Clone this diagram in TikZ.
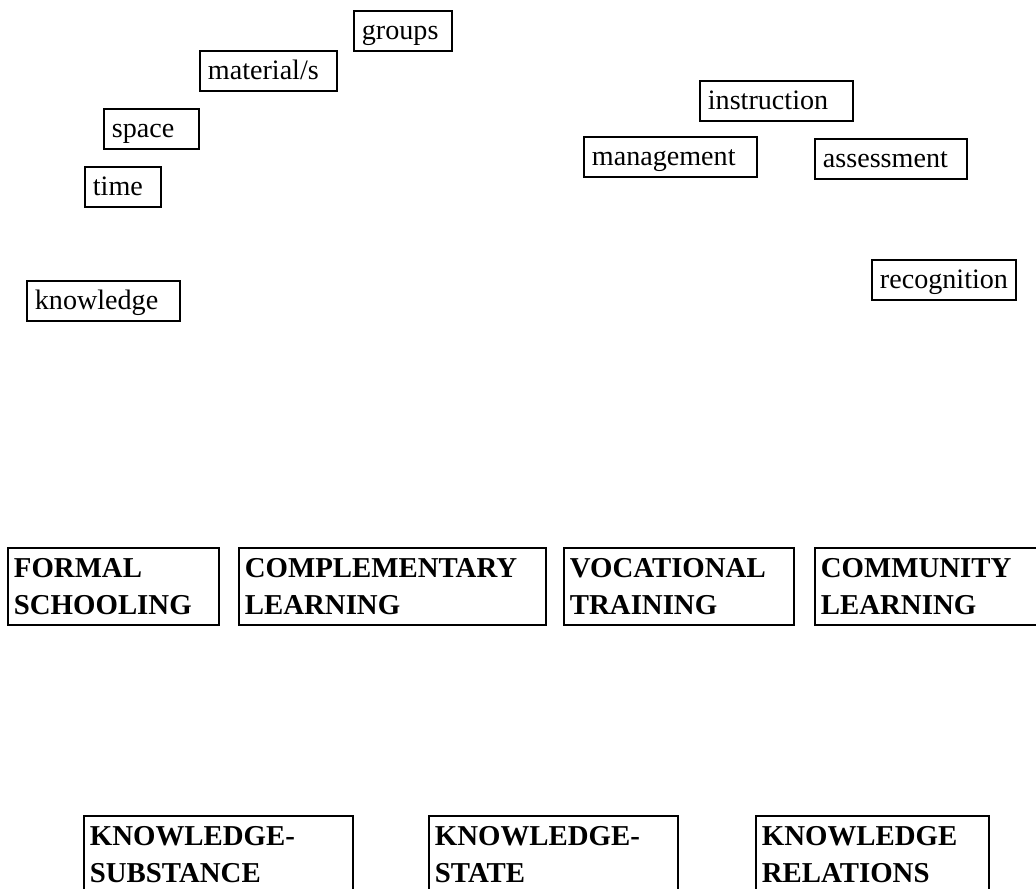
\documentclass[tikz,border=0pt]{standalone}
\usepackage{fontspec}
\setmainfont{Liberation Serif}
\tikzset{
	plainstyle/.style={draw=black, line width=1.3pt, anchor=north west, inner xsep=0.2cm, inner ysep=0pt,
		text height=0.72cm, text depth=0.28cm, align=left, font=\fontsize{20}{26}\selectfont},
	boldstyle/.style={draw=black, line width=1.3pt, anchor=north west, inner xsep=0.15cm, inner ysep=0pt,
		minimum height=1.925cm, align=left, font=\fontsize{20.5}{26.5}\selectfont\bfseries}
}

\begin{document}
\begin{tikzpicture}
	\clip (0,0) rectangle (25.9,22.2);
	\node[plainstyle, text width=2.05cm] (groups) at (8.825,21.95) {groups};
	\node[plainstyle, text width=3.025cm] (material) at (4.975,20.95) {material/s};
	\node[plainstyle, text width=1.975cm] (space) at (2.575,19.5) {space};
	\node[plainstyle, text width=1.5cm] (time) at (2.1,18.05) {time};
	\node[plainstyle, text width=3.425cm] (knowledge) at (0.65,15.2) {knowledge};
	\node[plainstyle, text width=3.425cm] (instruction) at (17.475,20.2) {instruction};
	\node[plainstyle, text width=3.925cm] (management) at (14.575,18.8) {management};
	\node[plainstyle, text width=3.4cm] (assessment) at (20.35,18.75) {assessment};
	\node[plainstyle, text width=3.2cm] (recognition) at (21.775,15.725) {recognition};
	\node[boldstyle, text width=4.975cm] (formal) at (0.175,8.525) {FORMAL\\SCHOOLING};
	\node[boldstyle, text width=7.375cm] (complementary) at (5.95,8.525) {COMPLEMENTARY\\LEARNING};
	\node[boldstyle, text width=5.45cm] (vocational) at (14.075,8.525) {VOCATIONAL\\TRAINING};
	\node[boldstyle, text width=5.7cm] (community) at (20.35,8.525) {COMMUNITY\\LEARNING};
	\node[boldstyle, text width=6.425cm] (substance) at (2.075,1.825) {KNOWLEDGE-\\SUBSTANCE};
	\node[boldstyle, text width=5.925cm] (state) at (10.7,1.825) {KNOWLEDGE-\\STATE};
	\node[boldstyle, text width=5.525cm] (relations) at (18.875,1.825) {KNOWLEDGE\\RELATIONS};
\end{tikzpicture}
\end{document}
